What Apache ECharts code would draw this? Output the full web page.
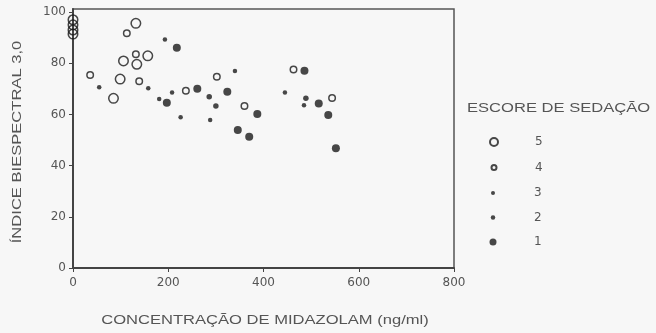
<!DOCTYPE html>
<html>
<head>
<meta charset="utf-8">
<script src="https://cdn.jsdelivr.net/npm/echarts@6/dist/echarts.min.js"></script>
<style>
  html, body { margin: 0; padding: 0; background: #f7f7f7; }
  #chart { width: 656px; height: 333px; }
</style>
</head>
<body>
<div id="chart"></div>
<script type="text/javascript">
    // pontos: [concentração ng/ml, BIS]
    var score5 = [[0, 97], [0, 95], [0, 93], [0, 91.4], [132, 95.6], [157, 82.9], [134, 79.6], [106, 80.9], [99, 73.8], [85, 66.3]];
    var score4 = [[113, 91.7], [132, 83.5], [36, 75.4], [139, 73], [237, 69.3], [302, 74.7], [360, 63.3], [463, 77.6], [544, 66.4]];
    var score3 = [[193, 89.3], [55, 70.6], [158, 70.2], [181, 66], [208, 68.6], [340, 77], [226, 58.9], [288, 57.8], [445, 68.6], [485, 63.6]];
    var score2 = [[286, 66.9], [300, 63.3], [489, 66.3]];
    var score1 = [[218, 86.1], [197, 64.6], [261, 70], [324, 68.9], [387, 60.2], [346, 53.9], [370, 51.3], [486, 77.1], [516, 64.3], [536, 59.8], [552, 46.8]];

    var scoreNames = ['5', '4', '3', '2', '1'];
    var xTicks = [0, 200, 400, 600, 800];
    var yTicks = [0, 20, 40, 60, 80, 100];

    var txt = '#555';
    var ink = '#1a1a1a';
    var labelFont = {fontFamily: 'DejaVu Sans', fontSize: 12, color: txt};

    // estilo de cada escore: anel aberto ou ponto cheio
    var styles = {
        '5': {size: 9.5, legSize: 8, open: true},
        '4': {size: 6.5, legSize: 5, open: true},
        '3': {size: 4.5, legSize: 4, open: false},
        '2': {size: 5.5, legSize: 4.5, open: false},
        '1': {size: 8, legSize: 7, open: false}
    };
    var seriesData = {'5': score5, '4': score4, '3': score3, '2': score2, '1': score1};
    var legendRows = [141, 166.5, 192, 216.5, 241];

    var series = [];
    var legends = [];
    for (var i = 0; i < scoreNames.length; i++) {
        var nm = scoreNames[i];
        var st = styles[nm];
        series.push({
            name: nm,
            type: 'scatter',
            symbol: 'circle',
            symbolSize: st.size,
            data: seriesData[nm],
            itemStyle: st.open
                ? {color: 'rgba(0,0,0,0)', borderColor: ink, borderWidth: 1.5}
                : {color: ink, borderWidth: 0},
            emphasis: {disabled: true}
        });
        legends.push({
            data: [nm],
            left: 493 - st.legSize / 2,
            top: legendRows[i] - 5,
            padding: 0,
            itemWidth: st.legSize,
            itemHeight: st.legSize,
            itemGap: 0,
            textStyle: Object.assign({padding: [0, 0, 0, 36 - st.legSize / 2]}, labelFont),
            selectedMode: false
        });
    }

    var myChart = echarts.init(document.getElementById('chart'));
    var option = {
        animation: false,
        backgroundColor: '#f7f7f7',
        grid: {
            left: 73, right: 202, top: 9, bottom: 65,
            show: true, borderColor: '#555', borderWidth: 1.5, backgroundColor: '#f7f7f7'
        },
        legend: legends,
        xAxis: {
            type: 'value',
            min: xTicks[0], max: xTicks[xTicks.length - 1], interval: 200,
            splitLine: {show: false},
            axisLine: {lineStyle: {color: '#444', width: 2}},
            axisTick: {show: true, length: 4, lineStyle: {color: '#444'}},
            axisLabel: Object.assign({margin: 9}, labelFont)
        },
        yAxis: {
            type: 'value',
            min: yTicks[0], max: 101.2, interval: 20,
            splitLine: {show: false},
            axisLine: {lineStyle: {color: '#444', width: 2}},
            axisTick: {show: true, length: 4, lineStyle: {color: '#444'}},
            axisLabel: Object.assign({margin: 7, showMaxLabel: false}, labelFont)
        },
        graphic: [
            {
                type: 'text', x: 265, y: 321, scaleX: 1.38,
                style: {text: 'CONCENTRAÇÃO DE MIDAZOLAM (ng/ml)', font: '12px "Liberation Sans"', fill: txt, textAlign: 'center', textVerticalAlign: 'middle'}
            },
            {
                type: 'text', x: 18, y: 142, scaleX: 1.38, rotation: Math.PI / 2,
                style: {text: 'ÍNDICE BIESPECTRAL 3,0', font: '12px "Liberation Sans"', fill: txt, textAlign: 'center', textVerticalAlign: 'middle'}
            },
            {
                type: 'text', x: 467, y: 109, scaleX: 1.38,
                style: {text: 'ESCORE DE SEDAÇÃO', font: '12px "Liberation Sans"', fill: txt, textAlign: 'left', textVerticalAlign: 'middle'}
            }
        ],
        series: series
    };
    myChart.setOption(option, true);
</script>
</body>
</html>
